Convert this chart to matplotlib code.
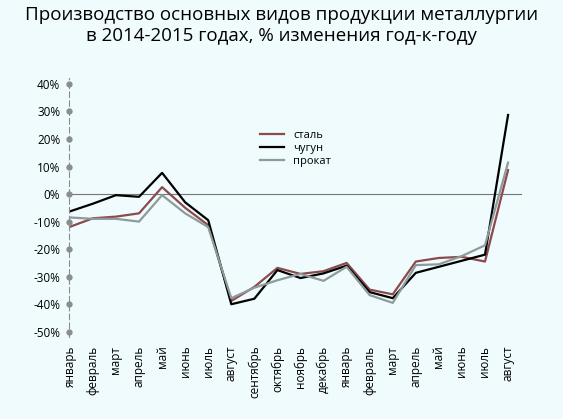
import matplotlib.pyplot as plt

plt.rcParams["font.family"] = ["Open Sans", "DejaVu Sans"]

months = ["январь", "февраль", "март", "апрель", "май", "июнь", "июль", "август",
          "сентябрь", "октябрь", "ноябрь", "декабрь", "январь", "февраль", "март",
          "апрель", "май", "июнь", "июль", "август"]
steel = [-11.9, -8.8, -8.2, -7, 2.5, -5, -11.3, -38.8, -33.7, -26.8, -29, -28, -25,
         -34.7, -36.4, -24.5, -23.2, -22.8, -24.5, 8.7]
iron = [-6.3, -3.5, -0.4, -1, 7.7, -3, -9.5, -40, -38, -27.6, -30.5, -28.8, -26,
        -35.6, -37.8, -28.6, -26.4, -24.2, -22, 28.7]
rolled = [-8.5, -9, -9, -10, -0.4, -7, -12, -37.8, -34, -31.3, -29, -31.5, -26.4,
          -36.7, -39.5, -25.8, -25.5, -22.5, -18.6, 11.4]
yticks = [40, 30, 20, 10, 0, -10, -20, -30, -40, -50]

bg = "#effbfc"
fig = plt.figure(figsize=(5.63, 4.19), dpi=100, facecolor=bg)
ax = fig.add_axes([0.122, 0.195, 0.805, 0.618], facecolor=bg)

x = list(range(len(months)))
ax.plot(x, steel, color="#8b4a4c", lw=1.6, label="сталь")
ax.plot(x, iron, color="black", lw=1.6, label="чугун")
ax.plot(x, rolled, color="#8f9a9a", lw=1.6, label="прокат")
ax.axhline(0, color="#777777", lw=0.8, zorder=0)

ax.set_xlim(-0.05, 19.6)
ax.set_ylim(-52, 42)
ax.set_yticks(yticks)
ax.set_yticklabels([f"{v}%" for v in yticks], fontsize=8.5)
ax.plot([-0.05] * len(yticks), yticks, "o", color="#8c8c8c", ms=3.5, clip_on=False)
ax.set_xticks(x)
ax.set_xticklabels(months, rotation=90, fontsize=8.5)
ax.tick_params(length=0, pad=6)
for s in ["top", "right", "bottom"]:
    ax.spines[s].set_visible(False)
ax.spines["left"].set_linestyle((0, (5, 3)))
ax.spines["left"].set_color("#8c8c8c")

ax.legend(loc="upper left", bbox_to_anchor=(0.4, 0.84), frameon=False, fontsize=8,
          handlelength=2.2, labelspacing=0.2)

fig.text(0.5, 0.985, "Производство основных видов продукции металлургии\nв 2014-2015 годах, % изменения год-к-году",
         ha="center", va="top", fontsize=13.5, linespacing=1.2)

fig.savefig("out.png", dpi=100, facecolor=bg)
